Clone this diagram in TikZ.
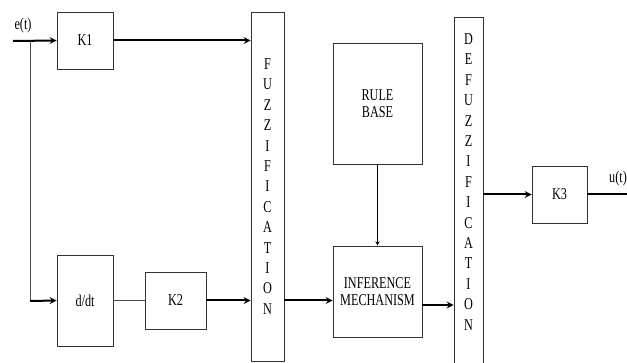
\documentclass[tikz,border=0pt]{standalone}
\usepackage{fontspec}
\setmainfont[FakeStretch=0.74]{Liberation Serif}
\usetikzlibrary{arrows,positioning,calc}

\begin{document}
\begin{tikzpicture}[
    x=1pt,y=-1pt,
    font=\fontsize{16.5}{20.4}\selectfont,
    block/.style={rectangle,draw=black!80,line width=0.9pt,align=center,inner sep=0pt},
    vbar/.style={block,minimum width=30pt},
    arrow/.style={line width=2pt,->,>=stealth},
    thinarrow/.style={line width=0.9pt,->,>=stealth},
    thinline/.style={line width=1pt,draw=black!70}
]
    \useasboundingbox (0,0) rectangle (627,363);
    \begin{scope}
    \clip (0,0) rectangle (627,363);
    \node[block,minimum width=56pt,minimum height=57pt] (k1) at (85,40.5) {K1};
    \node[block,minimum width=56pt,minimum height=91pt] (ddt) at (85,300.5) {d/dt};
    \node[block,minimum width=61pt,minimum height=57pt] (k2) at (175.5,300.5) {K2};
    \node[vbar,minimum width=33pt,minimum height=349pt] (fuzz) at (267.5,186.5)
        {F\\U\\Z\\Z\\I\\F\\I\\C\\A\\T\\I\\O\\N};
    \node[block,minimum width=89pt,minimum height=121pt] (rule) at (377.5,103.5) {RULE\\[-3pt]BASE};
    \node[block,minimum width=89pt,minimum height=91pt] (infer) at (377.5,291.5) {INFERENCE\\[-3pt]MECHANISM};
    \node[vbar,minimum width=29pt,minimum height=350pt] (defuzz) at (468.5,192)
        {D\\E\\F\\U\\Z\\Z\\I\\F\\I\\C\\A\\T\\I\\O\\N\\\mbox{}};
    \node[block,minimum width=55pt,minimum height=57pt] (k3) at (559.5,194.5) {K3};

    % signals in and out
    \coordinate (ein) at (13,41);
    \coordinate (branch) at (30,41);
    \coordinate (corner) at (30,301);
    \coordinate (uout) at (627,194.5);
    \node (elabel) at (23,26) {e(t)};
    \node (ulabel) at (618,179) {u(t)};

    \draw[arrow] (ein) -- (k1.west);
    \draw[thinline] (branch) -- (corner);
    \draw[arrow] (corner) -- (ddt.west);
    \draw[arrow] (k1.east) -- (k1.east -| fuzz.west);
    \draw[thinline] (ddt.east) -- (k2.west);
    \draw[arrow] (k2.east) -- (k2.east -| fuzz.west);
    \draw[arrow] (k2 -| fuzz.east) -- (k2 -| infer.west);
    \draw[thinarrow] (rule.south) -- (infer.north);
    \draw[arrow] ([yshift=-13.5pt]infer.east) -- ([yshift=-13.5pt]infer.east -| defuzz.west);
    \draw[arrow] (k3 -| defuzz.east) -- (k3.west);
    \draw[line width=2pt] (k3.east) -- (uout);
    \end{scope}
\end{tikzpicture}
\end{document}
